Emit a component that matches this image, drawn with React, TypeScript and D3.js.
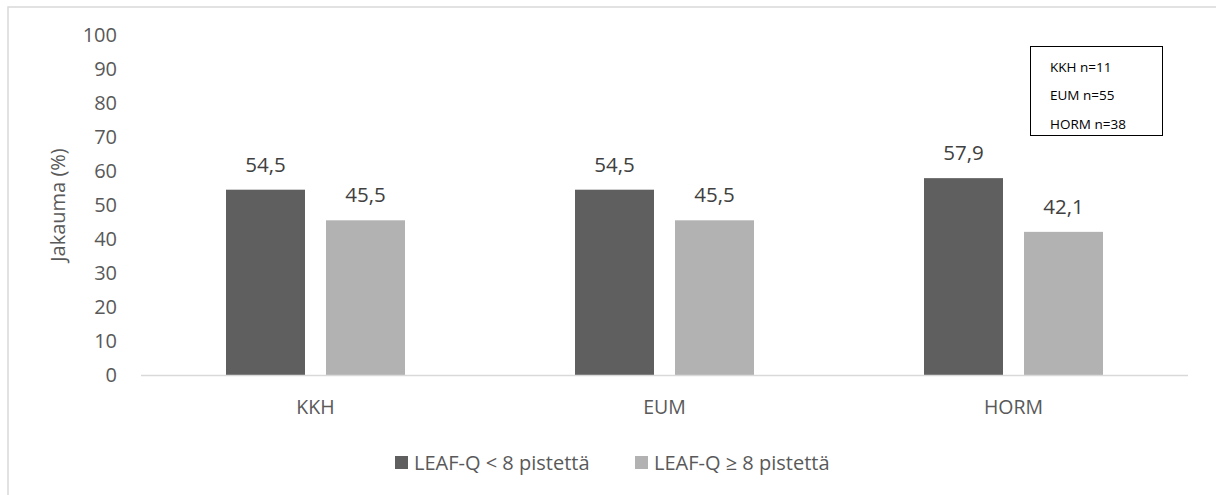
import React from "react";
import * as d3 from "d3";

const categories = ["KKH", "EUM", "HORM"];
const seriesNames = ["LEAF-Q < 8 pistettä", "LEAF-Q ≥ 8 pistettä"];
const belowEight = [54.5, 54.5, 57.9];
const atLeastEight = [45.5, 45.5, 42.1];
const yTicks = [0, 10, 20, 30, 40, 50, 60, 70, 80, 90, 100];
const sampleSizes = ["KKH n=11", "EUM n=55", "HORM n=38"];

const colors = ["#5f5f5f", "#b2b2b2"];
const textColor = "#595959";
const font = "'Open Sans', 'Noto Sans', sans-serif";

const W = 1216;
const H = 495;
const plot = { left: 141, right: 1188, top: 35, bottom: 375 };

export default function App() {
  const x0 = d3.scaleBand<string>().domain(categories).range([plot.left, plot.right]).padding(0);
  const groupWidth = 179;
  const offset = (x0.bandwidth() - groupWidth) / 2;
  const x1 = d3
    .scaleBand<string>()
    .domain(seriesNames)
    .range([offset, offset + groupWidth])
    .paddingInner(0.21)
    .paddingOuter(0);
  const y = d3.scaleLinear().domain([0, 100]).range([plot.bottom, plot.top]);

  const series = [belowEight, atLeastEight];

  return (
    <svg
      width={W}
      height={H}
      style={{ position: "absolute", left: 0, top: 0, background: "#fff" }}
      fontFamily={font}
    >
      <rect x={8} y={7} width={1230} height={520} fill="#fff" stroke="#d9d9d9" strokeWidth={1.5} />

      {/* y axis ticks */}
      {yTicks.map((t) => (
        <text
          key={t}
          x={117}
          y={y(t)}
          dy="0.35em"
          textAnchor="end"
          fontSize={20}
          fill={textColor}
        >
          {t}
        </text>
      ))}

      <text
        transform={`translate(58, ${(plot.top + plot.bottom) / 2}) rotate(-90)`}
        textAnchor="middle"
        dy="0.35em"
        fontSize={20}
        fill={textColor}
      >
        Jakauma (%)
      </text>

      {/* bars and value labels */}
      {categories.map((c, i) => (
        <g key={c} transform={`translate(${x0(c)},0)`}>
          {seriesNames.map((s, j) => {
            const v = series[j][i];
            const bx = x1(s)!;
            return (
              <g key={s}>
                <rect
                  x={bx}
                  y={y(v)}
                  width={x1.bandwidth()}
                  height={y(0) - y(v)}
                  fill={colors[j]}
                />
                <text
                  x={bx + x1.bandwidth() / 2}
                  y={y(v) - 25}
                  dy="0.35em"
                  textAnchor="middle"
                  fontSize={20.5}
                  fill={"#404040"}
                >
                  {d3.format(".1f")(v).replace(".", ",")}
                </text>
              </g>
            );
          })}
          <text
            x={x0.bandwidth() / 2}
            y={407}
            dy="0.35em"
            textAnchor="middle"
            fontSize={19.5}
            fill={textColor}
          >
            {c}
          </text>
        </g>
      ))}

      {/* baseline */}
      <line x1={plot.left} x2={plot.right} y1={y(0) + 0.5} y2={y(0) + 0.5} stroke="#d9d9d9" strokeWidth={1.5} />

      {/* legend */}
      {seriesNames.map((s, j) => {
        const lx = [395, 635][j];
        return (
          <g key={s}>
            <rect x={lx} y={456} width={13} height={13} fill={colors[j]} />
            <text x={lx + 19} y={463} dy="0.35em" fontSize={20} fill={textColor}>
              {s}
            </text>
          </g>
        );
      })}

      {/* sample size box */}
      <rect x={1030.5} y={46.5} width={132} height={89} fill="#fff" stroke="#000" strokeWidth={1} />
      {sampleSizes.map((t, k) => (
        <text key={t} x={1050} y={67 + k * 28.5} dy="0.35em" fontSize={13.5} fill="#000">
          {t}
        </text>
      ))}
    </svg>
  );
}
